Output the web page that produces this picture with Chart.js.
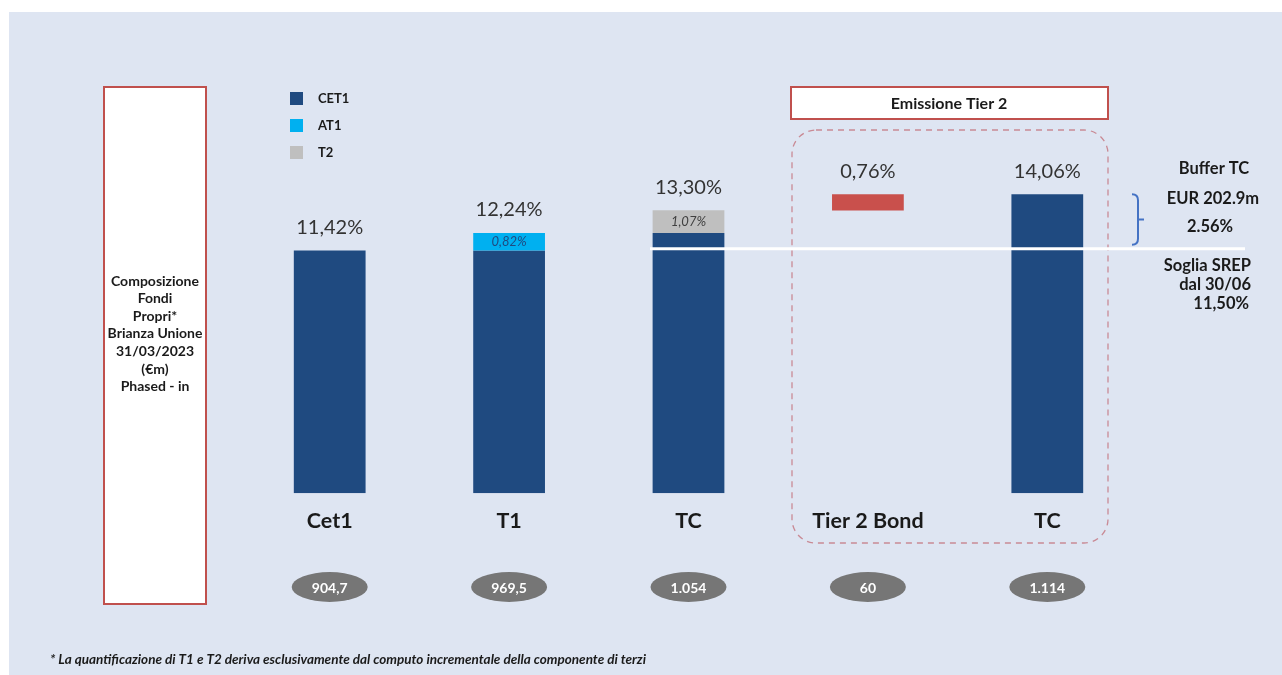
<!DOCTYPE html>
<html>
<head>
<meta charset="utf-8">
<script src="https://cdn.jsdelivr.net/npm/chart.js@4"></script>
<style>
    html, body { margin: 0; padding: 0; background: #ffffff; }
    #wrap { position: relative; width: 1282px; height: 675px; }
</style>
</head>
<body>
<div id="wrap"><canvas id="myChart" width="1282" height="675"></canvas></div>
<script>
// categories and values (percent of RWA)
const categories = ['Cet1', 'T1', 'TC', 'Tier 2 Bond', 'TC'];
const cet1 = [11.42, 11.42, 12.24, null, 14.06];
const at1 = [null, 0.82, null, null, null];
const t2 = [null, null, 1.07, null, null];
const bond = [null, null, null, 0.76, null];
const bondBase = [null, null, null, 13.30, null];
const totalLabels = ['11,42%', '12,24%', '13,30%', '0,76%', '14,06%'];
const totals = [11.42, 12.24, 13.30, 14.06, 14.06];
const amounts = ['904,7', '969,5', '1.054', '60', '1.114'];
const srep = 11.50;

const FONT = 'Lato, "Open Sans", sans-serif';

function stackOn(base, vals) {
    return vals.map((v, i) => v === null ? null : [base[i], base[i] + v]);
}

const dsCet1 = cet1.map(v => v === null ? null : [0, v]);
const dsAt1 = stackOn(cet1, at1);
const dsT2 = stackOn(cet1, t2);
const dsBond = stackOn(bondBase, bond);

const innerLabels = {
    1: { text: '0,82%', color: '#1f4a80' },
    2: { text: '1,07%', color: '#404040' }
};

const decor = {
    id: 'decor',
    beforeDraw(chart) {
        const c = chart.ctx;
        c.save();
        c.fillStyle = '#ffffff';
        c.fillRect(0, 0, chart.width, chart.height);
        c.fillStyle = '#dee5f2';
        c.fillRect(9, 12, chart.width - 9, chart.height - 12);

        // left title box
        c.fillStyle = '#ffffff';
        c.fillRect(104, 87, 102, 517);
        c.strokeStyle = '#c0504d';
        c.lineWidth = 2;
        c.strokeRect(104, 87, 102, 517);
        c.fillStyle = '#1a1a1a';
        c.font = 'bold 14px ' + FONT;
        c.textAlign = 'center';
        c.textBaseline = 'middle';
        const lines = ['Composizione', 'Fondi', 'Propri*', 'Brianza Unione', '31/03/2023', '(€m)', 'Phased - in'];
        lines.forEach((t, i) => c.fillText(t, 155, 281 + i * 17.6));

        // Emissione Tier 2 box
        c.fillStyle = '#ffffff';
        c.fillRect(791, 87, 317, 32);
        c.strokeStyle = '#c0504d';
        c.strokeRect(791, 87, 317, 32);
        c.fillStyle = '#1a1a1a';
        c.font = 'bold 16px ' + FONT;
        c.fillText('Emissione Tier 2', 949, 104);

        // dashed group outline
        c.strokeStyle = '#c98a95';
        c.lineWidth = 1.3;
        c.setLineDash([6, 5]);
        c.beginPath();
        c.roundRect(792, 130, 316, 413, 24);
        c.stroke();
        c.setLineDash([]);

        // legend
        const items = chart.data.datasets.slice(0, 3);
        c.textAlign = 'left';
        c.font = 'bold 13px ' + FONT;
        items.forEach((d, i) => {
            const y = 92 + i * 27;
            c.fillStyle = d.backgroundColor;
            c.fillRect(290, y, 13, 13);
            c.fillStyle = '#1a1a1a';
            c.fillText(d.label, 318, y + 7);
        });
        c.restore();
    },
    afterDatasetsDraw(chart) {
        const c = chart.ctx;
        const x = chart.scales.x;
        const y = chart.scales.y;
        c.save();
        c.textAlign = 'center';
        c.textBaseline = 'middle';

        // SREP threshold line
        const ys = y.getPixelForValue(srep);
        c.strokeStyle = '#ffffff';
        c.lineWidth = 3;
        c.beginPath();
        c.moveTo(650, ys);
        c.lineTo(1245, ys);
        c.stroke();

        // totals above bars
        c.fillStyle = '#333333';
        c.font = '20px ' + FONT;
        totals.forEach((v, i) => {
            c.fillText(totalLabels[i], x.getPixelForValue(i), y.getPixelForValue(v) - 23);
        });

        // inner segment labels
        c.font = 'italic 13px ' + FONT;
        Object.keys(innerLabels).forEach(k => {
            const i = Number(k);
            const seg = i === 1 ? dsAt1[i] : dsT2[i];
            const mid = y.getPixelForValue((seg[0] + seg[1]) / 2);
            c.fillStyle = innerLabels[k].color;
            c.fillText(innerLabels[k].text, x.getPixelForValue(i), mid);
        });

        // amount ellipses
        amounts.forEach((a, i) => {
            const cx = x.getPixelForValue(i);
            c.fillStyle = '#767676';
            c.beginPath();
            c.ellipse(cx, 587, 38, 15, 0, 0, Math.PI * 2);
            c.fill();
            c.fillStyle = '#ffffff';
            c.font = 'bold 14px ' + FONT;
            c.fillText(a, cx, 588);
        });

        // buffer brace
        const yTop = y.getPixelForValue(totals[4]);
        c.strokeStyle = '#4472c4';
        c.lineWidth = 2;
        c.beginPath();
        c.moveTo(1132, yTop);
        c.quadraticCurveTo(1138, yTop, 1138, yTop + 6);
        c.lineTo(1138, ys - 10);
        c.quadraticCurveTo(1138, ys - 4, 1132, ys - 4);
        c.moveTo(1138, (yTop + ys) / 2 - 2);
        c.lineTo(1144, (yTop + ys) / 2 - 2);
        c.stroke();

        c.fillStyle = '#1a1a1a';
        c.font = 'bold 16.5px ' + FONT;
        c.fillText('Buffer TC', 1214, 169);
        c.fillText('EUR 202.9m', 1213, 199);
        c.fillText('2.56%', 1210, 227);
        c.textAlign = 'right';
        c.fillText('Soglia SREP', 1251, 266);
        c.fillText('dal 30/06', 1251, 285);
        c.fillText('11,50%', 1249, 304);

        // footnote
        c.textAlign = 'left';
        c.font = 'italic bold 13.5px ' + FONT;
        c.fillText('* La quantificazione di T1 e T2 deriva esclusivamente dal computo incrementale della componente di terzi', 50, 660);
        c.restore();
    }
};

const ctx = document.getElementById('myChart').getContext('2d');

const myChart = new Chart(ctx, { // eslint-disable-line
    type: 'bar',
    data: {
        labels: categories,
        datasets: [
            { label: 'CET1', data: dsCet1, backgroundColor: '#1f4a80', grouped: false, order: 2 },
            { label: 'AT1', data: dsAt1, backgroundColor: '#00b0f0', grouped: false, order: 1 },
            { label: 'T2', data: dsT2, backgroundColor: '#bfbfbf', grouped: false, order: 1 },
            { label: 'Tier 2 Bond', data: dsBond, backgroundColor: '#c9504c', grouped: false, order: 1 }
        ]
    },
    options: {
        responsive: false,
        animation: false,
        barPercentage: 0.4,
        categoryPercentage: 1,
        layout: {
            padding: { left: 240, right: 145, top: 68, bottom: 134 }
        },
        plugins: {
            legend: { display: false },
            tooltip: { enabled: false }
        },
        scales: {
            x: {
                grid: { display: false },
                border: { display: false },
                ticks: {
                    color: '#1a1a1a',
                    padding: 7,
                    font: { family: FONT, size: 21.5, weight: 'bold' }
                }
            },
            y: {
                display: false,
                min: 0,
                max: 20
            }
        }
    },
    plugins: [decor]
});
</script>
</body>
</html>
